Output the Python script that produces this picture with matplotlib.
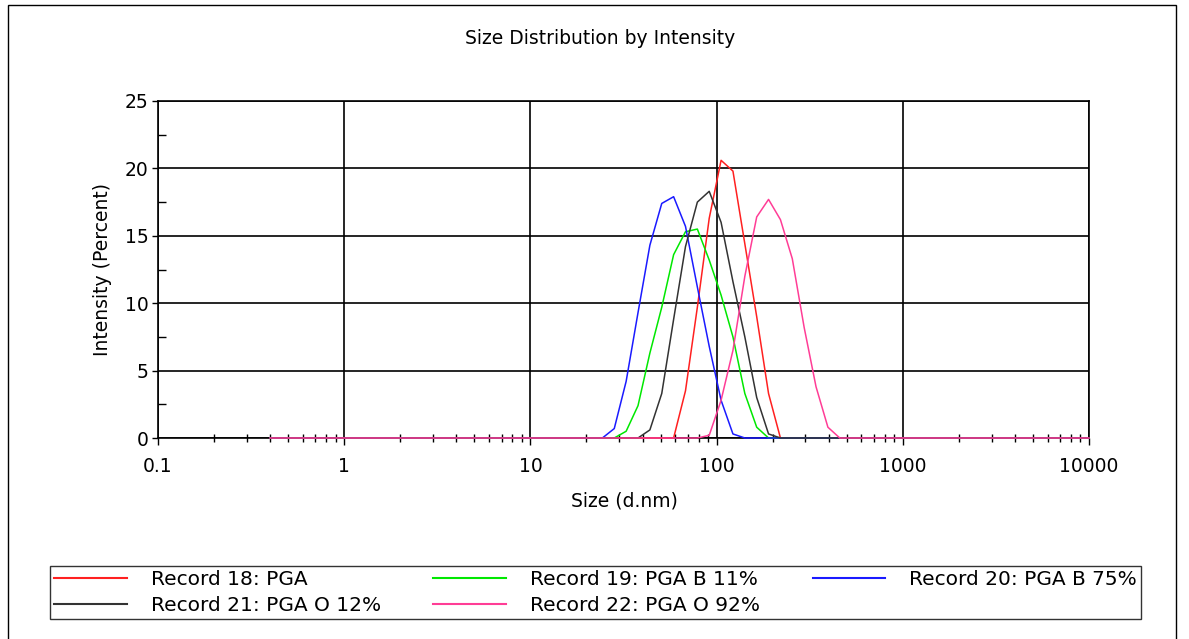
import matplotlib
matplotlib.use("Agg")
import matplotlib.pyplot as plt
from matplotlib.ticker import LogLocator, MultipleLocator, FixedLocator, FixedFormatter, NullFormatter
from matplotlib.patches import Rectangle

# size bins (d.nm) and intensity (%) per record
sizes = [0.4, 21.04, 24.36, 28.21, 32.67, 37.84, 43.82, 50.75, 58.77, 68.06, 78.82, 91.28,
         105.7, 122.4, 141.8, 164.2, 190.1, 220.2, 255.0, 295.3, 342.0, 396.1, 458.7, 531.2, 10000]
rec18 = [0, 0, 0, 0, 0, 0, 0, 0, 0, 3.5, 9.7, 16.3, 20.6, 19.8, 14.4, 9.0, 3.3, 0, 0, 0, 0, 0, 0, 0, 0]
rec19 = [0, 0, 0, 0, 0.5, 2.4, 6.3, 9.7, 13.6, 15.3, 15.5, 13.2, 10.6, 7.5, 3.3, 0.8, 0, 0, 0, 0, 0, 0, 0, 0, 0]
rec20 = [0, 0, 0, 0.7, 4.2, 9.3, 14.3, 17.4, 17.9, 15.7, 11.2, 6.8, 2.8, 0.3, 0, 0, 0, 0, 0, 0, 0, 0, 0, 0, 0]
rec21 = [0, 0, 0, 0, 0, 0, 0.6, 3.3, 8.8, 14.2, 17.5, 18.3, 16.0, 11.6, 7.5, 3.0, 0.3, 0, 0, 0, 0, 0, 0, 0, 0]
rec22 = [0, 0, 0, 0, 0, 0, 0, 0, 0, 0, 0, 0.2, 2.8, 6.5, 12.0, 16.4, 17.7, 16.2, 13.3, 8.2, 3.8, 0.8, 0, 0, 0]

labels = ["Record 18: PGA", "Record 19: PGA B 11%", "Record 20: PGA B 75%",
          "Record 21: PGA O 12%", "Record 22: PGA O 92%"]
colors = ["#ff2020", "#00e800", "#1a1aff", "#333333", "#ff3d96"]
xticks = [0.1, 1, 10, 100, 1000, 10000]
xticklabels = ["0.1", "1", "10", "100", "1000", "10000"]

plt.rcParams['font.family'] = ['DejaVu Sans']
fs = 13.5

fig = plt.figure(figsize=(11.89, 6.39), dpi=100)
ax = fig.add_axes([158/1189, 1-438/639, (1089-158)/1189, (438-101)/639])

lines = []
for y, c, lab in zip([rec18, rec19, rec20, rec21, rec22], colors, labels):
    ln, = ax.plot(sizes, y, color=c, lw=1.1, label=lab, zorder=3, clip_on=False)
    lines.append(ln)

ax.set_xscale('log')
ax.set_xlim(0.1, 10000)
ax.set_ylim(0, 25)
ax.xaxis.set_major_locator(FixedLocator(xticks))
ax.xaxis.set_major_formatter(FixedFormatter(xticklabels))
ax.xaxis.set_minor_locator(LogLocator(base=10, subs=range(2, 10), numticks=20))
ax.xaxis.set_minor_formatter(NullFormatter())
ax.yaxis.set_major_locator(MultipleLocator(5))
ax.yaxis.set_minor_locator(MultipleLocator(2.5))

ax.grid(True, which='major', color='black', lw=1.2)
for s in ax.spines.values():
    s.set_color('black')
    s.set_linewidth(1.2)

ax.tick_params(axis='x', which='major', direction='out', length=5, width=1, pad=9, labelsize=fs)
ax.tick_params(axis='x', which='minor', direction='inout', length=6, width=1)
ax.tick_params(axis='y', which='major', direction='out', length=4, width=1, pad=3, labelsize=fs)
ax.tick_params(axis='y', which='minor', direction='in', length=6, width=1)

fig.text(600/1189, 1-38/639, "Size Distribution by Intensity", ha='center', va='center', fontsize=fs)
fig.text(624/1189, 1-501/639, "Size (d.nm)", ha='center', va='center', fontsize=fs)
fig.text(103/1189, 1-270/639, "Intensity (Percent)", ha='center', va='center', rotation=90, fontsize=fs)

# legend: row order 18,19,20 / 21,22
order = [0, 3, 1, 4, 2]
leg = fig.legend([lines[i] for i in order], [labels[i] for i in order],
                 loc='upper left', bbox_to_anchor=(50/1189, 1-566/639, (1141-50)/1189, 0.0),
                 mode='expand', ncol=3, fontsize=14.5, frameon=True, fancybox=False,
                 edgecolor='black', borderaxespad=0, borderpad=0.2, labelspacing=0.35,
                 handlelength=3.6, handletextpad=1.2)
leg.get_frame().set_linewidth(1.0)
for h in leg.get_lines():
    h.set_linewidth(1.5)

# outer frame
fig.patches.append(Rectangle((8/1189, -0.05), (1176-8)/1189, 1.05-5/639, transform=fig.transFigure,
                             fill=False, edgecolor='black', lw=1.0))

fig.savefig("out.png", dpi=100)
